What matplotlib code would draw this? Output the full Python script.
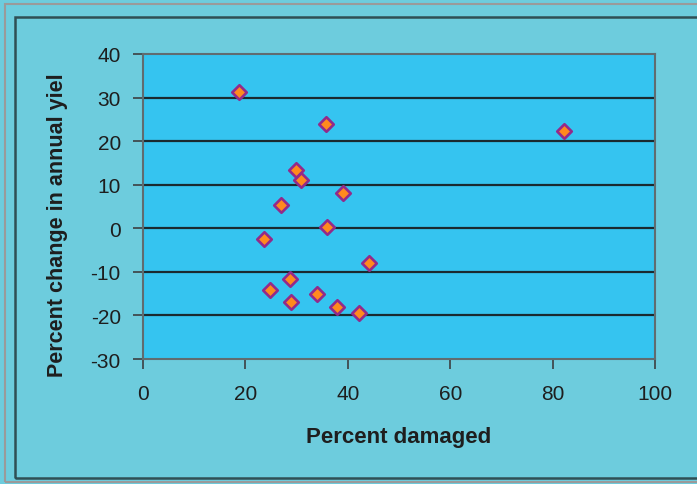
import matplotlib
matplotlib.use("Agg")
import matplotlib.pyplot as plt
from matplotlib.patches import Rectangle

# Data
pct_damaged = [18.8, 35.7, 82.2, 29.9, 30.9, 39.1, 27.0, 35.9, 23.6, 44.1, 28.7, 24.8, 34.0, 28.9, 37.9, 42.2]
pct_change = [31.3, 23.9, 22.3, 13.4, 11.1, 8.1, 5.3, 0.3, -2.5, -8.0, -11.6, -14.2, -15.1, -16.9, -18.1, -19.4]
x_ticks = [0, 20, 40, 60, 80, 100]
y_ticks = [-30, -20, -10, 0, 10, 20, 30, 40]
x_label = "Percent damaged"
y_label = "Percent change in annual yiel"

plt.rcParams['font.family'] = ['Liberation Sans Narrow', 'Liberation Sans', 'DejaVu Sans']
plt.rcParams['axes.unicode_minus'] = False

outer_bg = "#6DCCDD"
plot_bg = "#35C4F0"

fig = plt.figure(figsize=(6.97, 4.85), dpi=100, facecolor=outer_bg)
W, H = 697, 485

# outer light border and inner dark frame
fig.patches.append(Rectangle((5 / W, 1 - 483 / H), 700 / W, 478 / H, transform=fig.transFigure,
                             fill=False, edgecolor="#9a9a9a", linewidth=1.5))
fig.patches.append(Rectangle((15 / W, 1 - 479 / H), 700 / W, 461 / H, transform=fig.transFigure,
                             fill=False, edgecolor="#2f4f55", linewidth=1.8))

ax = fig.add_axes([143 / W, 1 - 360 / H, (655 - 143) / W, (360 - 55) / H])
ax.set_facecolor(plot_bg)
ax.set_xlim(0, 100)
ax.set_ylim(-30, 40)
ax.set_xticks(x_ticks)
ax.set_yticks(y_ticks)
for y in y_ticks[1:-1]:
    ax.axhline(y, color="#1a2a30", linewidth=1.6, zorder=1)

ax.scatter(pct_damaged, pct_change, marker="D", s=55, facecolor="#FF8A1E",
           edgecolor="#932A8A", linewidth=1.9, zorder=3)

for s in ax.spines.values():
    s.set_color("#606c70")
    s.set_linewidth(1.5)

ax.tick_params(axis="both", direction="out", length=7, width=1.3, color="#404a4e",
               labelsize=15, labelcolor="#1e1e1e")
ax.tick_params(axis="x", pad=11)
ax.tick_params(axis="y", pad=9)

ax.set_xlabel(x_label, fontsize=16, fontweight="bold", color="#1e1e1e",
              family=['Liberation Sans', 'DejaVu Sans'])
ax.set_ylabel(y_label, fontsize=15.5, fontweight="bold", color="#1e1e1e",
              family=['Liberation Sans', 'DejaVu Sans'])
ax.xaxis.set_label_coords(0.5, -(437 - 360) / 305, transform=ax.transAxes)
ax.xaxis.label.set_va("center")
ax.yaxis.set_label_coords(-(143 - 58) / 512, (360 - 225) / 305, transform=ax.transAxes)
ax.yaxis.label.set_va("center")

fig.savefig("out.png", dpi=100, facecolor=outer_bg)
